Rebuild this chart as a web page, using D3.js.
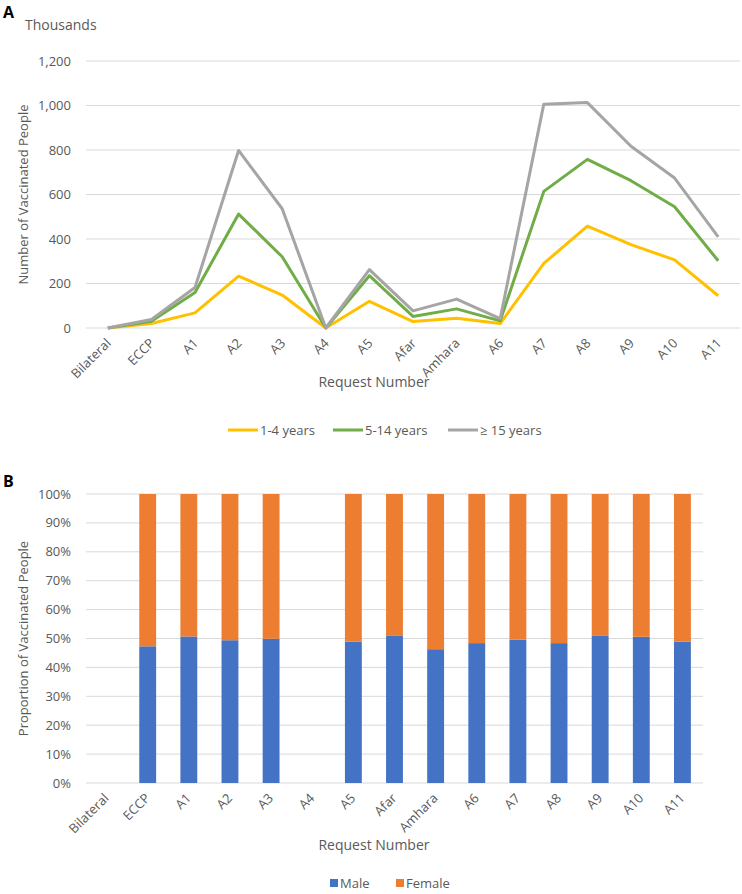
<!DOCTYPE html>
<html><head><meta charset="utf-8">
<script src="https://cdn.jsdelivr.net/npm/d3@7"></script>
<style>body{margin:0;background:#fff}text{font-family:"Open Sans",sans-serif}</style>
</head><body><svg id="c" width="742" height="894"></svg>
<script>
const categories = ["Bilateral","ECCP","A1","A2","A3","A4","A5","Afar","Amhara","A6","A7","A8","A9","A10","A11"];
const age1to4 = [0,20,68,233,148,0,120,29,44,20,290,458,375,306,145];
const age5to14 = [0,30,160,512,320,0,235,52,86,32,614,758,662,545,302];
const age15plus = [0,38,182,798,536,0,262,77,130,42,1006,1013,817,674,410];
const seriesNames = ["1-4 years","5-14 years","\u2265 15 years"];
const maleShare = [null,47.3,50.7,49.4,49.9,null,48.9,50.9,46.3,48.4,49.6,48.4,50.9,50.6,48.9];
const femaleShare = maleShare.map(v => v == null ? null : 100 - v);
const yTicksA = [0,200,400,600,800,1000,1200];
const yTicksB = [0,10,20,30,40,50,60,70,80,90,100];

const svg = d3.select("#c");
const txt = "#595959", grid = "#d9d9d9";
const colors = ["#FFC000","#70AD47","#A5A5A5"];

// ---------- Panel A ----------
const A = {l:86, r:740, t:61, b:328};
const xA = d3.scaleBand().domain(categories).range([A.l, A.r]);
const yA = d3.scaleLinear().domain([0,1200]).range([A.b, A.t]);
svg.append("text").attr("x",3).attr("y",18).attr("font-weight","bold").attr("font-size",16).attr("fill","#000").attr("font-family","Liberation Sans, Arial").text("A");
svg.append("text").attr("x",25).attr("y",30).attr("font-size",14).attr("fill",txt).text("Thousands");
const gA = svg.append("g");
gA.selectAll("line.g").data(yTicksA).join("line").attr("x1",A.l).attr("x2",A.r)
  .attr("y1",d=>yA(d)).attr("y2",d=>yA(d)).attr("stroke",grid).attr("stroke-width",1);
gA.selectAll("text.yt").data(yTicksA).join("text").attr("x",71).attr("y",d=>yA(d)+4.5)
  .attr("text-anchor","end").attr("font-size",13).attr("fill",txt).text(d=>d3.format(",")(d));
[age1to4, age5to14, age15plus].forEach((s,i)=>{
  gA.append("path").datum(s).attr("fill","none").attr("stroke",colors[i]).attr("stroke-width",3)
    .attr("stroke-linejoin","round")
    .attr("d", d3.line().x((d,j)=>xA(categories[j])+xA.bandwidth()/2).y(d=>yA(d)));
});
gA.selectAll("text.xl").data(categories).join("text")
  .attr("transform",d=>`translate(${xA(d)+xA.bandwidth()/2+4},${A.b+16}) rotate(-45)`)
  .attr("text-anchor","end").attr("font-size",13).attr("fill",txt).text(d=>d);
svg.append("text").attr("transform",`translate(28,${(A.t+A.b)/2}) rotate(-90)`).attr("text-anchor","middle")
  .attr("font-size",13).attr("fill",txt).text("Number of Vaccinated People");
svg.append("text").attr("x",374).attr("y",387).attr("text-anchor","middle").attr("font-size",14).attr("fill",txt).text("Request Number");
const legA = [228,333,448];
seriesNames.forEach((n,i)=>{
  svg.append("line").attr("x1",legA[i]).attr("x2",legA[i]+30).attr("y1",430).attr("y2",430).attr("stroke",colors[i]).attr("stroke-width",3);
  svg.append("text").attr("x",legA[i]+32).attr("y",434.5).attr("font-size",13).attr("fill",txt).text(n);
});

// ---------- Panel B ----------
const B = {l:86, r:703, t:494, b:783};
const xB = d3.scaleBand().domain(categories).range([B.l,B.r]).paddingInner(0.59).paddingOuter(0.295);
const yB = d3.scaleLinear().domain([0,100]).range([B.b,B.t]);
svg.append("text").attr("x",3).attr("y",487).attr("font-weight","bold").attr("font-size",16).attr("fill","#000").attr("font-family","Liberation Sans, Arial").text("B");
const gB = svg.append("g");
gB.selectAll("line.g").data(yTicksB).join("line").attr("x1",B.l).attr("x2",B.r)
  .attr("y1",d=>yB(d)).attr("y2",d=>yB(d)).attr("stroke",grid).attr("stroke-width",1);
gB.selectAll("text.yt").data(yTicksB).join("text").attr("x",71).attr("y",d=>yB(d)+4.5)
  .attr("text-anchor","end").attr("font-size",13).attr("fill",txt).text(d=>d+"%");
const idx = d3.range(categories.length).filter(i=>maleShare[i]!=null);
gB.selectAll("rect.m").data(idx).join("rect").attr("x",i=>xB(categories[i])).attr("width",xB.bandwidth())
  .attr("y",i=>yB(maleShare[i])).attr("height",i=>yB(0)-yB(maleShare[i])).attr("fill","#4472C4");
gB.selectAll("rect.f").data(idx).join("rect").attr("x",i=>xB(categories[i])).attr("width",xB.bandwidth())
  .attr("y",i=>yB(maleShare[i]+femaleShare[i])).attr("height",i=>yB(maleShare[i])-yB(maleShare[i]+femaleShare[i])).attr("fill","#ED7D31");
gB.selectAll("text.xl").data(categories).join("text")
  .attr("transform",d=>`translate(${xB(d)+xB.bandwidth()/2+3},${B.b+16}) rotate(-45)`)
  .attr("text-anchor","end").attr("font-size",13).attr("fill",txt).text(d=>d);
svg.append("text").attr("transform",`translate(28,${(B.t+B.b)/2}) rotate(-90)`).attr("text-anchor","middle")
  .attr("font-size",13).attr("fill",txt).text("Proportion of Vaccinated People");
svg.append("text").attr("x",374).attr("y",850).attr("text-anchor","middle").attr("font-size",14).attr("fill",txt).text("Request Number");
[["Male","#4472C4",330],["Female","#ED7D31",396]].forEach(([n,c,x])=>{
  svg.append("rect").attr("x",x).attr("y",879).attr("width",8).attr("height",8).attr("fill",c);
  svg.append("text").attr("x",x+10).attr("y",888).attr("font-size",13).attr("fill",txt).text(n);
});
</script></body></html>
